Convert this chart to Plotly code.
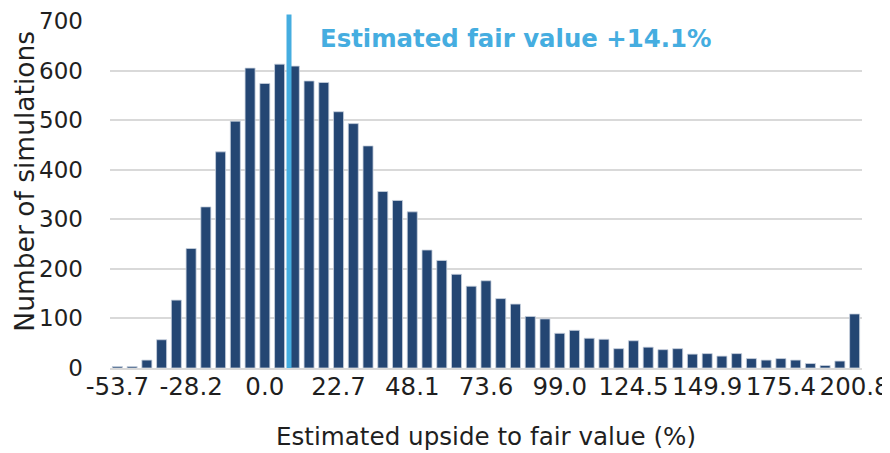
import plotly.graph_objects as go

# Histogram bins (category index) and counts
counts = [3, 3, 16, 57, 137, 241, 325, 436, 498, 605,
          574, 613, 609, 579, 576, 517, 493, 448, 356, 338,
          315, 238, 217, 189, 165, 176, 140, 129, 104, 99,
          70, 76, 60, 58, 39, 55, 42, 37, 39, 28,
          29, 24, 29, 19, 16, 19, 16, 9, 5, 14,
          109]
tick_labels = ["-53.7", "-28.2", "0.0", "22.7", "48.1", "73.6",
               "99.0", "124.5", "149.9", "175.4", "200.8"]
tick_every = 5
fair_value_position = 11.64   # position of fair value marker in bin units
fair_value_label = "Estimated fair value +14.1%"
x_title = "Estimated upside to fair value (%)"
y_title = "Number of simulations"

N = len(counts)
bins = list(range(N))

BAR = "#244673"
LINE = "#45ADE0"
FONT = "DejaVu Sans, Verdana, sans-serif"
TXT = "#1f1f1f"

fig = go.Figure()
fig.add_trace(go.Bar(
    x=bins, y=counts,
    marker=dict(color=BAR, line=dict(color="#c9d2de", width=0.8)),
    hoverinfo="y",
))

fx = (fair_value_position + 0.5) / N
fig.add_shape(type="line", xref="x domain", yref="paper",
              x0=fx, x1=fx, y0=0, y1=1.019,
              line=dict(color=LINE, width=5), layer="above")

fig.add_annotation(xref="x domain", yref="paper", x=fx, y=0.95,
                   xanchor="left", yanchor="middle", xshift=29,
                   text="<b>" + fair_value_label + "</b>", showarrow=False,
                   font=dict(family=FONT, size=24.4, color=LINE))

fig.add_annotation(xref="paper", yref="paper", x=0.5, y=-0.1975,
                   xanchor="center", yanchor="middle", showarrow=False,
                   text=x_title, font=dict(family=FONT, size=24.6, color=TXT))

fig.add_annotation(xref="paper", yref="paper", x=0, y=0.537,
                   xanchor="center", yanchor="middle", xshift=-85,
                   textangle=-90, showarrow=False, borderpad=0,
                   text=y_title, font=dict(family=FONT, size=26.5, color=TXT))

# page body has an 8px default margin; size the figure to fit the 890x453 view
fig.update_layout(
    width=882, height=445,
    margin=dict(l=102, r=28, t=12.5, b=84.7),
    paper_bgcolor="white", plot_bgcolor="white",
    bargap=0.32,
    showlegend=False,
    font=dict(family=FONT, size=22, color=TXT),
    xaxis=dict(
        range=[-0.5, N - 0.5],
        tickmode="array",
        tickvals=bins[::tick_every],
        ticktext=tick_labels,
        showgrid=False, zeroline=False,
        showline=True, linecolor="#d9d9d9", linewidth=1.5,
        ticks="", ticklabelstandoff=-4,
        tickfont=dict(size=24.5),
        automargin=False,
    ),
    yaxis=dict(
        range=[0, 700],
        tickvals=[0, 100, 200, 300, 400, 500, 600, 700],
        showgrid=True, gridcolor="#d9d9d9", gridwidth=1.5,
        zeroline=False, showline=False,
        ticks="", ticklabelstandoff=26,
        tickfont=dict(size=23),
        automargin=False,
    ),
)

fig.write_html("out.html")
